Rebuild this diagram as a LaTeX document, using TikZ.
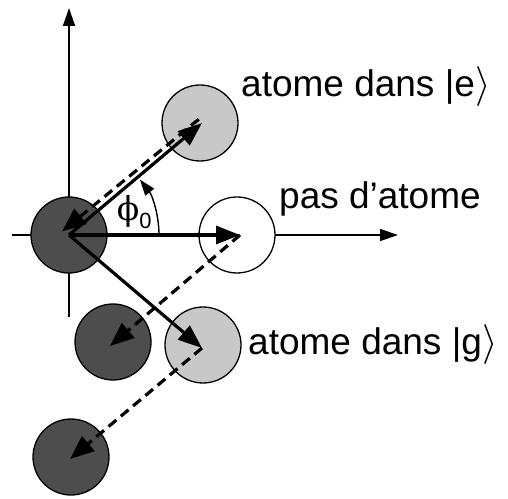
\documentclass[tikz,border=0pt]{standalone}
\usepackage{fontspec}
\usepackage{graphicx}
\setmainfont{Liberation Sans}
\newfontfamily\phifont{DejaVu Serif}
\usetikzlibrary{arrows.meta}
\definecolor{darkatom}{RGB}{77,77,77}
\definecolor{lightatom}{RGB}{200,200,200}
\newcommand{\ketend}{\scalebox{1.6}{$\rangle$}}
\begin{document}
\begin{tikzpicture}[x=1pt,y=1pt,
  axis/.style={line width=1.4pt,-{Triangle[length=18pt,width=12pt]}},
  atom/.style={circle,draw=black,line width=1.3pt,minimum size=76pt,inner sep=0pt},
  vec/.style={line width=3.2pt,-{Triangle[length=24pt,width=18pt]}},
  dvec/.style={line width=3.2pt,dash pattern=on 10pt off 6pt,-{Triangle[length=24pt,width=19pt]}},
  lab/.style={anchor=base west,inner sep=0pt,font=\fontsize{37}{40}\selectfont}]
\useasboundingbox (0,0) rectangle (508,498);
% axes
\coordinate (xs) at (12,263);
\coordinate (xe) at (398,263);
\coordinate (ys) at (69,181);
\coordinate (ye) at (69,490);
\draw[axis] (xs) -- (xe);
\draw[axis] (ys) -- (ye);
% atoms
\node[atom,fill=darkatom] (o) at (69,263) {};
\node[atom,fill=lightatom] (e) at (200,375) {};
\node[atom,fill=white] (n) at (237,263) {};
\node[atom,fill=lightatom] (g) at (203,153) {};
\node[atom,fill=darkatom] (d2) at (113,156) {};
\node[atom,fill=darkatom] (d3) at (71,41) {};
% tips
\coordinate (O) at (69,263);
\coordinate (E) at (202,375);
\coordinate (N) at (240,263);
\coordinate (G) at (202,150);
\coordinate (Ed) at (198.8,378.8);
\coordinate (Od) at (62,266.5);
\coordinate (D2) at (110,152);
\coordinate (D3) at (70,39);
% solid vectors
\draw[vec] (O) -- (E);
\draw[vec] (O) -- (N);
\draw[vec] (O) -- (G);
% dashed vectors
\draw[dvec] (Ed) -- (Od);
\draw[dvec] (N) -- (D2);
\draw[dvec] (G) -- (D3);
% angle
\coordinate (A0) at (159,263);
\draw[line width=1.4pt,-{Triangle[length=16pt,width=11pt]}] (A0) arc[start angle=0,end angle=38,radius=90];
\node[inner sep=0pt] (phi) at (128,287) {\fontsize{33}{33}\phifont ϕ};
\node[inner sep=0pt] (phisub) at (145.5,277.5) {\fontsize{22}{22}\selectfont 0};
% labels
\node[lab] (le) at (241,401) {atome dans |e\ketend};
\node[lab] (ln) at (279,289) {pas d’atome};
\node[lab] (lg) at (248,143) {atome dans |g\ketend};
\end{tikzpicture}
\end{document}
